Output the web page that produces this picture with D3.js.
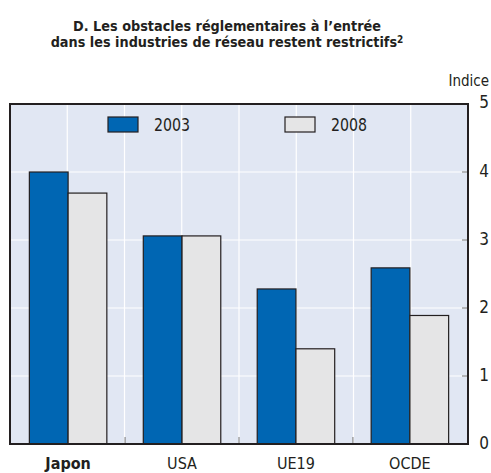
<!DOCTYPE html>
<html>
<head>
<meta charset="utf-8">
<script src="https://cdn.jsdelivr.net/npm/d3@7"></script>
<style>
  body { margin: 0; background: #fff; }
  text { font-family: "Liberation Sans Narrow", "DejaVu Sans Condensed", "Roboto", sans-serif; fill: #231f20; }
</style>
</head>
<body>
<script>
const categories = ["Japon", "USA", "UE19", "OCDE"];
const years = ["2003", "2008"];
const values2003 = [4.0, 3.06, 2.28, 2.59];
const values2008 = [3.69, 3.06, 1.4, 1.89];
const yTicks = [0, 1, 2, 3, 4, 5];
const titleLines = [
  "D. Les obstacles réglementaires à l’entrée",
  "dans les industries de réseau restent restrictifs",
];

const width = 491,
  height = 473;
const margin = { top: 104, right: 23, bottom: 29, left: 10 };

const colors = { "2003": "#0066b3", "2008": "#e5e5e6" };

const svg = d3
  .select("body")
  .append("svg")
  .attr("width", width)
  .attr("height", height);

const x0 = d3
  .scaleBand()
  .domain(categories)
  .range([margin.left, width - margin.right])
  .paddingInner(0.32)
  .paddingOuter(0.17);

const x1 = d3.scaleBand().domain(years).range([0, x0.bandwidth()]);

const y = d3
  .scaleLinear()
  .domain([0, 5])
  .range([height - margin.bottom, margin.top]);

// background
svg
  .append("rect")
  .attr("x", margin.left)
  .attr("y", margin.top)
  .attr("width", width - margin.left - margin.right)
  .attr("height", height - margin.top - margin.bottom)
  .attr("fill", "#e1e7f3");

// vertical grid (8 columns)
const xGrid = d3
  .scaleLinear()
  .domain([0, 8])
  .range([margin.left, width - margin.right]);
svg
  .append("g")
  .selectAll("line")
  .data(d3.range(1, 8))
  .join("line")
  .attr("x1", (d) => xGrid(d))
  .attr("x2", (d) => xGrid(d))
  .attr("y1", margin.top)
  .attr("y2", height - margin.bottom)
  .attr("stroke", "#fff")
  .attr("stroke-width", 1.2);

// horizontal grid
svg
  .append("g")
  .selectAll("line")
  .data(yTicks.slice(1, -1))
  .join("line")
  .attr("x1", margin.left)
  .attr("x2", width - margin.right)
  .attr("y1", (d) => y(d))
  .attr("y2", (d) => y(d))
  .attr("stroke", "#fff")
  .attr("stroke-width", 1.2);

// category separator ticks at the bottom
svg
  .append("g")
  .selectAll("line")
  .data(categories.slice(1))
  .join("line")
  .attr("x1", (d) => x0(d) - (x0.step() - x0.bandwidth()) / 2)
  .attr("x2", (d) => x0(d) - (x0.step() - x0.bandwidth()) / 2)
  .attr("y1", height - margin.bottom)
  .attr("y2", height - margin.bottom - 7)
  .attr("stroke", "#777")
  .attr("stroke-width", 1);

// bars
const rows = categories.map((c, i) => ({
  cat: c,
  vals: [
    { year: "2003", v: values2003[i] },
    { year: "2008", v: values2008[i] },
  ],
}));

svg
  .append("g")
  .selectAll("g")
  .data(rows)
  .join("g")
  .attr("transform", (d) => `translate(${x0(d.cat)},0)`)
  .selectAll("rect")
  .data((d) => d.vals)
  .join("rect")
  .attr("x", (d) => x1(d.year))
  .attr("y", (d) => y(d.v))
  .attr("width", x1.bandwidth())
  .attr("height", (d) => y(0) - y(d.v))
  .attr("fill", (d) => colors[d.year])
  .attr("stroke", "#231f20")
  .attr("stroke-width", 1.2);

// right ticks
svg
  .append("g")
  .selectAll("line")
  .data(yTicks.slice(1, -1))
  .join("line")
  .attr("x1", width - margin.right - 6)
  .attr("x2", width - margin.right)
  .attr("y1", (d) => y(d))
  .attr("y2", (d) => y(d))
  .attr("stroke", "#777");

// frame
svg
  .append("rect")
  .attr("x", margin.left)
  .attr("y", margin.top)
  .attr("width", width - margin.left - margin.right)
  .attr("height", height - margin.top - margin.bottom)
  .attr("fill", "none")
  .attr("stroke", "#231f20")
  .attr("stroke-width", 2);

// y labels on the right
svg
  .append("g")
  .selectAll("text")
  .data(yTicks)
  .join("text")
  .attr("x", width - 2)
  .attr("y", (d) => (d === 5 ? y(d) - 2 : y(d) - 1))
  .attr("dy", "0.35em")
  .attr("text-anchor", "end")
  .style("font-size", "17px")
  .text((d) => d);

svg
  .append("text")
  .attr("x", width - 2)
  .attr("y", 86)
  .attr("text-anchor", "end")
  .style("font-size", "15px")
  .text("Indice");

// category labels
svg
  .append("g")
  .selectAll("text")
  .data(categories)
  .join("text")
  .attr("x", (d) => x0(d) + x0.bandwidth() / 2)
  .attr("y", 469)
  .attr("text-anchor", "middle")
  .style("font-size", "16px")
  .style("font-weight", (d, i) => (i === 0 ? "bold" : "normal"))
  .text((d) => d);

// legend
const legendX = [108, 285];
const legend = svg
  .append("g")
  .selectAll("g")
  .data(years)
  .join("g")
  .attr("transform", (d, i) => `translate(${legendX[i]},117)`);
legend
  .append("rect")
  .attr("width", 30)
  .attr("height", 15)
  .attr("fill", (d) => colors[d])
  .attr("stroke", "#231f20")
  .attr("stroke-width", 1.2);
legend
  .append("text")
  .attr("x", 46)
  .attr("y", 8)
  .attr("dy", "0.35em")
  .attr("textLength", 36)
  .attr("lengthAdjust", "spacingAndGlyphs")
  .style("font-size", "17px")
  .text((d) => d);

// title
const title = svg
  .append("text")
  .attr("text-anchor", "middle")
  .style("font-size", "14.3px")
  .style("font-weight", "bold");
title.append("tspan").attr("x", 227).attr("y", 31).text(titleLines[0]);
title.append("tspan").attr("x", 227).attr("y", 47).text(titleLines[1]);
title
  .append("tspan")
  .attr("dy", -4)
  .style("font-size", "10px")
  .text("2");
</script>
</body>
</html>
